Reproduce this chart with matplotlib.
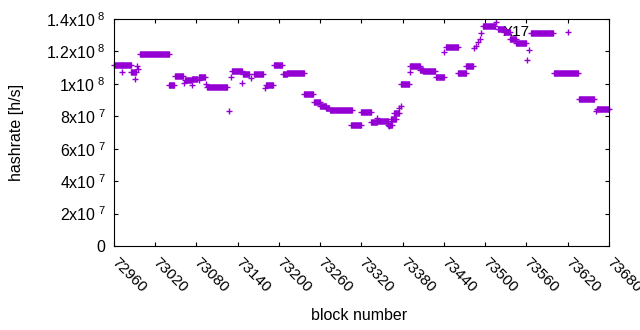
import numpy as np
import matplotlib
matplotlib.use('Agg')
import matplotlib.pyplot as plt

plt.rcParams['font.family'] = ['Liberation Sans', 'DejaVu Sans']
plt.rcParams['mathtext.fontset'] = 'custom'
plt.rcParams['mathtext.rm'] = 'Liberation Sans'

# constant-hashrate stretches: first block, last block, hashrate (x1e8)
seg_start = np.array([72960, 72972, 72985, 72998, 73040, 73049, 73063, 73073, 73084, 73096,
                      73132, 73148, 73163, 73181, 73193, 73206, 73212, 73236, 73251, 73260,
                      73268, 73274, 73305, 73320, 73334, 73344, 73358, 73363, 73368, 73378,
                      73391, 73405, 73409, 73428, 73443, 73461, 73472, 73497, 73518, 73527,
                      73536, 73545, 73567, 73600, 73637, 73663])
seg_end = np.array([72971, 72985, 72992, 73040, 73048, 73061, 73072, 73081, 73092, 73125,
                    73146, 73157, 73177, 73192, 73205, 73211, 73236, 73250, 73260, 73268,
                    73273, 73306, 73320, 73334, 73342, 73358, 73364, 73370, 73374, 73389,
                    73405, 73409, 73427, 73440, 73461, 73472, 73482, 73514, 73527, 73536,
                    73545, 73560, 73599, 73635, 73658, 73680])
seg_rate = np.array([1.119, 1.119, 1.071, 1.182, 0.991, 1.047, 1.025, 1.030, 1.041, 0.979,
                     1.077, 1.061, 1.058, 0.991, 1.114, 1.061, 1.070, 0.937, 0.890, 0.865,
                     0.854, 0.837, 0.744, 0.825, 0.763, 0.769, 0.746, 0.782, 0.820, 0.997,
                     1.112, 1.085, 1.081, 1.040, 1.225, 1.065, 1.112, 1.354, 1.340, 1.317,
                     1.277, 1.250, 1.312, 1.070, 0.907, 0.843])

# single blocks
pt_block = np.array([72971, 72994, 72995, 72991, 73062, 73073, 73083, 73094, 73128, 73130,
                     73146, 73159, 73180, 73342, 73360, 73374, 73377, 73391, 73440, 73484,
                     73487, 73489, 73492, 73494, 73516, 73564, 73561, 73620, 73661])
pt_rate = np.array([1.075, 1.110, 1.090, 1.030, 1.007, 0.991, 1.022, 1.001, 0.833, 1.044,
                    1.003, 1.034, 0.973, 0.788, 0.740, 0.849, 0.865, 1.071, 1.195, 1.219,
                    1.235, 1.260, 1.277, 1.312, 1.383, 1.209, 1.147, 1.318, 0.834])

xticks = np.arange(72960, 73681, 60)
yticks = [0, 2e7, 4e7, 6e7, 8e7, 1e8, 1.2e8, 1.4e8]
ylabels = ['0', r'$\mathregular{2x10^{\ 7}}$', r'$\mathregular{4x10^{\ 7}}$',
           r'$\mathregular{6x10^{\ 7}}$', r'$\mathregular{8x10^{\ 7}}$',
           r'$\mathregular{1x10^{\ 8}}$', r'$\mathregular{1.2x10^{\ 8}}$',
           r'$\mathregular{1.4x10^{\ 8}}$']

col = '#9400D3'
fs = 11

fig = plt.figure(figsize=(6.4, 3.3), dpi=100)
ax = fig.add_axes([114/640, (330-246)/330, (609-114)/640, (246-19)/330])

ax.hlines(seg_rate*1e8, seg_start, seg_end, colors=col, linewidth=4.7,
          capstyle='butt', zorder=2, clip_on=False)
ax.plot(np.concatenate([seg_start, seg_end]), np.concatenate([seg_rate, seg_rate])*1e8,
        '+', color=col, ms=5.0, mew=1.0, ls='none', zorder=2, clip_on=False)
ax.plot(pt_block, pt_rate*1e8, '+', color=col, ms=5.0, mew=1.0, ls='none',
        zorder=2, clip_on=False)

ax.text(73526, 1.318e8, 'X17', fontsize=fs, ha='left', va='center', zorder=1)

ax.set_xlim(72960, 73680)
ax.set_ylim(0, 1.4e8)
ax.set_xticks(xticks)
ax.set_xticklabels([str(t) for t in xticks], rotation=-45, ha='left', va='center',
                   rotation_mode='anchor', fontsize=fs)
ax.set_yticks(yticks)
ax.set_yticklabels(ylabels, fontsize=11.5)
ax.tick_params(direction='in', length=3, width=0.8, top=True, right=True)
ax.tick_params(axis='x', pad=10)
ax.tick_params(axis='y', pad=6)
for s in ax.spines.values():
    s.set_linewidth(0.8)

fig.text(359/640, 1 - 316/330, 'block number', fontsize=11.5, ha='center', va='center')
fig.text(17/640, 1 - 132/330, 'hashrate [h/s]', fontsize=11.5, ha='center', va='center',
         rotation=90)

fig.savefig('out.png', dpi=100)
